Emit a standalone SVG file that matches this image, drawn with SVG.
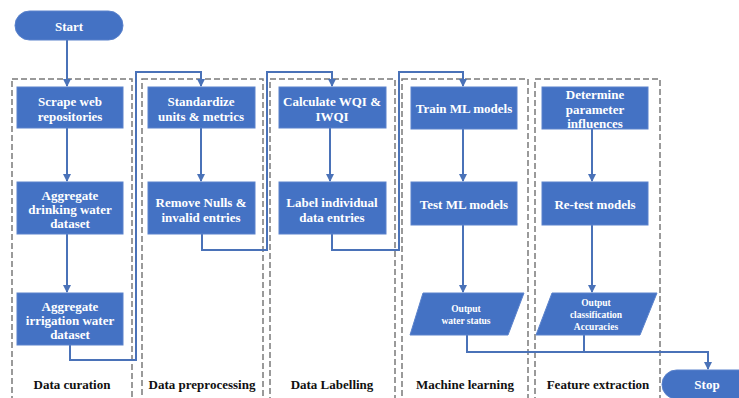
<svg xmlns="http://www.w3.org/2000/svg" width="739" height="398" viewBox="0 0 739 398">
<defs>
<marker id="ah" markerWidth="8" markerHeight="8" refX="7" refY="4" orient="auto" markerUnits="userSpaceOnUse"><path d="M0,0 L8,4 L0,8 z" fill="#4a72b8"/></marker>
<style>
.lane{fill:none;stroke:#7a7a7a;stroke-width:1.5;stroke-dasharray:6 3}
.box{fill:#4472c4;stroke:#5a82cc;stroke-width:1}
.t{fill:#fff;font-family:"Liberation Serif",serif;font-weight:bold;font-size:13px;text-anchor:middle;dominant-baseline:central}
.s{fill:#fff;font-family:"Liberation Serif",serif;font-weight:bold;font-size:9.5px;text-anchor:middle;dominant-baseline:central}
.lbl{fill:#111;font-family:"Liberation Serif",serif;font-weight:bold;font-size:13px;text-anchor:middle;dominant-baseline:central}
.c{fill:none;stroke:#4a72b8;stroke-width:2}
</style>
</defs>
<rect width="739" height="398" fill="#fff"/>
<g id="lanes">
<rect class="lane" x="12" y="79" width="120" height="325"/>
<rect class="lane" x="142" y="79" width="121" height="325"/>
<rect class="lane" x="270" y="79" width="125" height="325"/>
<rect class="lane" x="402" y="79" width="126" height="325"/>
<rect class="lane" x="535" y="79" width="125" height="325"/>
</g>
<g id="connectors">
<path class="c" d="M67,40 V86" marker-end="url(#ah)"/>
<path class="c" d="M67,128 V181" marker-end="url(#ah)"/>
<path class="c" d="M67,234 V292" marker-end="url(#ah)"/>
<path class="c" d="M70,345 V360 H136 V72 H201 V86" marker-end="url(#ah)"/>
<path class="c" d="M201,128 V181" marker-end="url(#ah)"/>
<path class="c" d="M202,234 V250 H267 V72 H332 V86" marker-end="url(#ah)"/>
<path class="c" d="M330,128 V181" marker-end="url(#ah)"/>
<path class="c" d="M332,234 V250 H399 V72 H463 V86" marker-end="url(#ah)"/>
<path class="c" d="M463,129 V181" marker-end="url(#ah)"/>
<path class="c" d="M463,225 V292" marker-end="url(#ah)"/>
<path class="c" d="M467,335 V352 H708 V369" marker-end="url(#ah)"/>
<path class="c" d="M584,335 V352"/>
<path class="c" d="M592,129 V181" marker-end="url(#ah)"/>
<path class="c" d="M592,225 V292" marker-end="url(#ah)"/>
</g>
<g id="start"><rect class="box" x="15" y="11" width="108" height="29" rx="14.5"/><text class="t" x="69" y="26">Start</text></g>
<g id="scrape"><rect class="box" x="17" y="87" width="106" height="41"/><text class="t" x="70" y="101">Scrape web</text><text class="t" x="70" y="116">repositories</text></g>
<g id="drinking"><rect class="box" x="17" y="182" width="106" height="52"/><text class="t" x="70" y="195">Aggregate</text><text class="t" x="70" y="209">drinking water</text><text class="t" x="70" y="223">dataset</text></g>
<g id="irrigation"><rect class="box" x="17" y="293" width="106" height="52"/><text class="t" x="70" y="306">Aggregate</text><text class="t" x="70" y="320">irrigation water</text><text class="t" x="70" y="334">dataset</text></g>
<g id="standardize"><rect class="box" x="148" y="87" width="107" height="41"/><text class="t" x="201" y="101">Standardize</text><text class="t" x="201" y="116">units &amp; metrics</text></g>
<g id="remove"><rect class="box" x="148" y="182" width="107" height="52"/><text class="t" x="201" y="202">Remove Nulls &amp;</text><text class="t" x="201" y="217">invalid entries</text></g>
<g id="calculate"><rect class="box" x="279" y="87" width="107" height="41"/><text class="t" x="332" y="101">Calculate WQI &amp;</text><text class="t" x="332" y="116">IWQI</text></g>
<g id="label"><rect class="box" x="279" y="182" width="107" height="52"/><text class="t" x="332" y="202">Label individual</text><text class="t" x="332" y="217">data entries</text></g>
<g id="train"><rect class="box" x="411" y="87" width="106" height="42"/><text class="t" x="464" y="108">Train ML models</text></g>
<g id="test"><rect class="box" x="411" y="182" width="106" height="43"/><text class="t" x="464" y="204">Test ML models</text></g>
<g id="output-water"><polygon class="box" points="423,293 524,293 508,335 410,335"/><text class="s" x="466" y="309">Output</text><text class="s" x="466" y="321">water status</text></g>
<g id="determine"><rect class="box" x="542" y="87" width="106" height="42"/><text class="t" x="595" y="94">Determine</text><text class="t" x="595" y="109">parameter</text><text class="t" x="595" y="123">influences</text></g>
<g id="retest"><rect class="box" x="542" y="182" width="106" height="43"/><text class="t" x="595" y="204">Re-test models</text></g>
<g id="output-class"><polygon class="box" points="552,293 657,293 640,335 536,335"/><text class="s" x="596" y="303">Output</text><text class="s" x="596" y="315">classification</text><text class="s" x="596" y="327">Accuracies</text></g>
<g id="stop"><rect class="box" x="662" y="370" width="95" height="29" rx="14.5"/><text class="t" x="707" y="384">Stop</text></g>
<g id="lane-labels">
<text class="lbl" x="72" y="384">Data curation</text>
<text class="lbl" x="202" y="384">Data preprocessing</text>
<text class="lbl" x="332" y="384">Data Labelling</text>
<text class="lbl" x="465" y="384">Machine learning</text>
<text class="lbl" x="598" y="384">Feature extraction</text>
</g>
</svg>
